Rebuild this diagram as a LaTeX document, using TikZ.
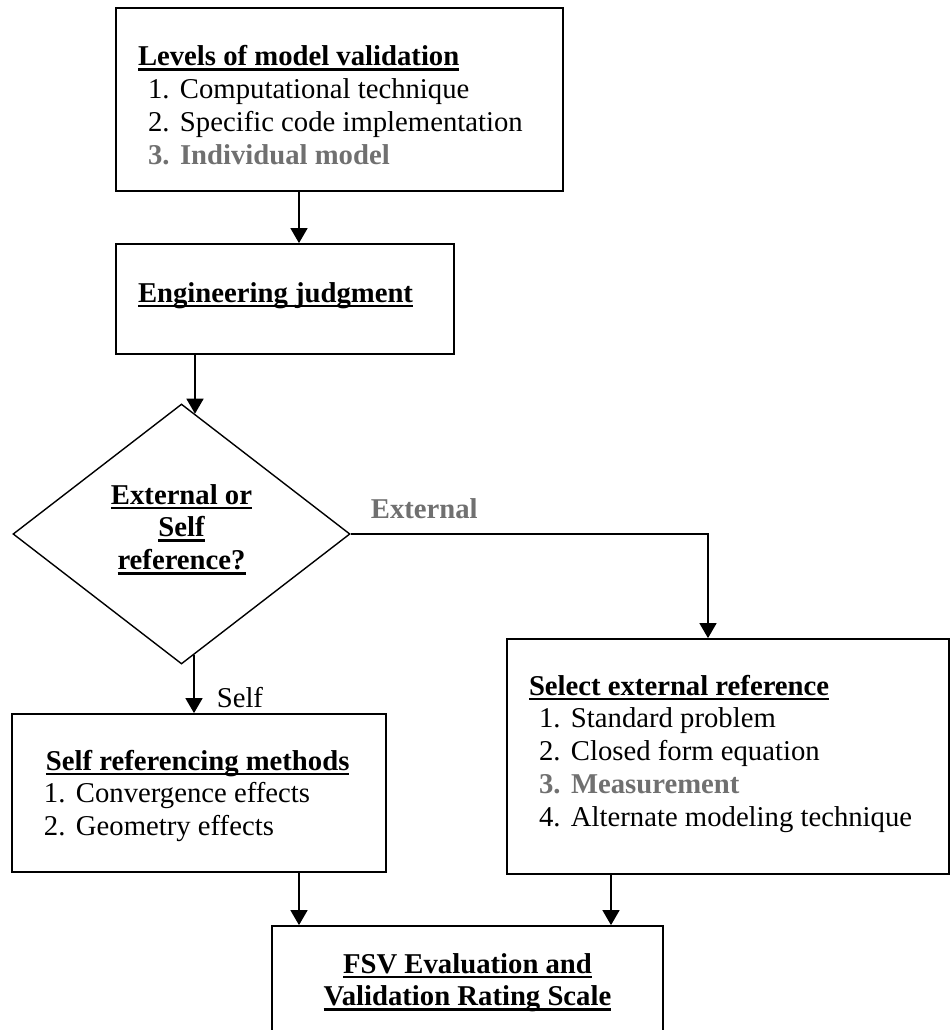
\documentclass[tikz,border=0pt]{standalone}
\usepackage{fontspec}
\setmainfont{Liberation Serif}
\usepackage{xcolor}
\usepackage{tikz}
\usetikzlibrary{shapes.geometric, arrows.meta, calc}
\definecolor{muted}{RGB}{112, 112, 112}
\newcommand{\hdr}[1]{\leavevmode\setbox0\hbox{\bfseries #1}\rlap{\rule[-5.3pt]{\wd0}{2.8pt}}\box0}
\newcommand{\entry}[2]{\par\makebox[32pt][l]{#1}{#2}}
\tikzset{textarea/.style n args={4}{execute at begin node={\begin{minipage}[c][#2][t]{#1}#3\rule{0pt}{#4}}, execute at end node={\end{minipage}}}}
\tikzstyle{arrow} = [line width=1.6pt, -{Triangle[width=17pt,length=15pt]}]
\tikzstyle{block} = [rectangle, draw, line width=1.8pt, inner sep=0pt]
\tikzstyle{decision} = [diamond, draw, line width=1.4pt, aspect=1.3, inner sep=0pt, minimum width=337pt, minimum height=260pt]
\tikzstyle{tag} = [inner sep=0pt]

\begin{document}
\begin{tikzpicture}[x=1pt, y=-1pt, font=\fontsize{28.7}{32.8}\selectfont]
    \useasboundingbox (0,0) rectangle (951,1030);
    \clip (0,0) rectangle (951,1030);

    \node (levels) [block, textarea={447pt}{183pt}{\leftskip=32pt\relax}{58pt}] at (339.5,99.5)
        {\hspace*{-10pt}\hdr{Levels of model validation}
         \entry{1.}{Computational technique}
         \entry{2.}{Specific code implementation}
         \entry{\color{muted}\bfseries 3.}{\color{muted}\bfseries Individual model}};
    \node (judge) [block, textarea={338pt}{110pt}{\leftskip=22pt\relax}{58pt}] at (285,299)
        {\hdr{Engineering judgment}};
    \node (decide) [decision, textarea={160pt}{110pt}{\centering}{25pt}] at (181.5,534)
        {\hdr{External or}\par\hdr{Self}\par\hdr{reference?}};
    \node (selfref) [block, textarea={374pt}{158pt}{\leftskip=32pt\relax}{56pt}] at (199,793)
        {\hspace*{2pt}\hdr{Self referencing methods}
         \entry{1.}{Convergence effects}
         \entry{2.}{Geometry effects}};
    \node (extref) [block, textarea={442pt}{235pt}{\leftskip=32pt\relax}{56pt}] at (728,756.5)
        {\hspace*{-10pt}\hdr{Select external reference}
         \entry{1.}{Standard problem}
         \entry{2.}{Closed form equation}
         \entry{\color{muted}\bfseries 3.}{\color{muted}\bfseries Measurement}
         \entry{4.}{Alternate modeling technique}};
    \node (fsv) [block, textarea={391pt}{174pt}{\centering}{47pt}] at (467.5,1013)
        {\hdr{FSV Evaluation and}\par\hdr{Validation Rating Scale}};

    \draw [arrow] ([xshift=-40.5pt]levels.south) -- ([xshift=-40.5pt]levels.south |- judge.north);
    \draw [arrow] ([xshift=-90pt]judge.south) -- ([xshift=13.5pt,yshift=-10.4pt]decide.north);
    \draw [arrow] (decide.east) -| node[tag, pos=0.103, anchor=base, yshift=16pt, text=muted] {\bfseries External} ([xshift=-20pt]extref.north);
    \draw [arrow] ([xshift=12.5pt,yshift=9.7pt]decide.south) -- node[tag, pos=0.9, anchor=base west, xshift=22pt] {Self} ([xshift=-5pt]selfref.north);
    \draw [arrow] ([xshift=100pt]selfref.south) -- ([xshift=100pt]selfref.south |- fsv.north);
    \draw [arrow] ([xshift=-117pt]extref.south) -- ([xshift=-117pt]extref.south |- fsv.north);
\end{tikzpicture}
\end{document}
